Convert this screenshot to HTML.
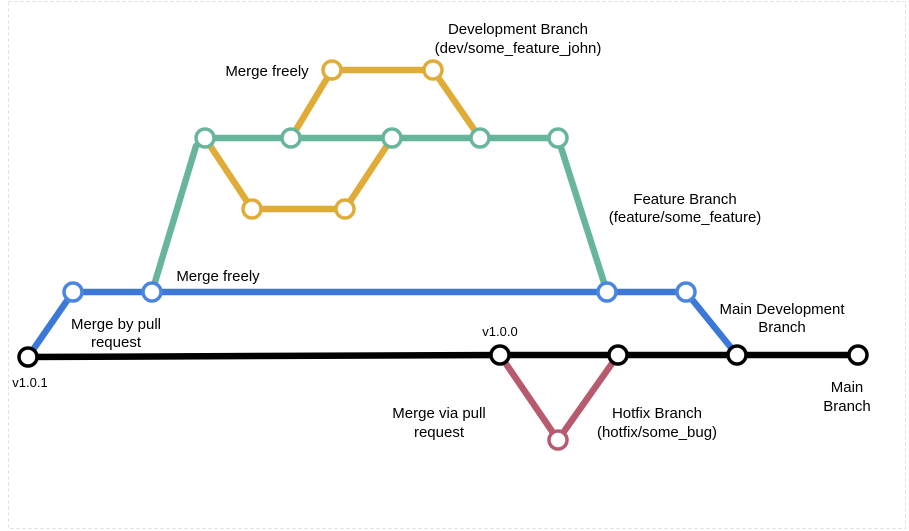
<!DOCTYPE html>
<html><head><style>
html,body{margin:0;padding:0;background:#fff;}
svg{display:block;}
text{font-family:"Liberation Sans",Arial,sans-serif;font-size:15px;fill:#000;}
</style></head><body>
<svg width="909" height="531" viewBox="0 0 909 531" xmlns="http://www.w3.org/2000/svg">
<rect x="8.5" y="1.5" width="897" height="527" fill="none" stroke="#ddd" stroke-dasharray="3,3"/>
<g fill="none" stroke-width="6.5" stroke-linejoin="round">
<polyline points="28,357 500,355 618,355 737,355 858,355" stroke="#000"/>
<polyline points="28,357 73,292 686,292 737,355" stroke="#3c78d8"/>
<polyline points="152,292 196,146 205,138 558,138 607,292" stroke="#67b59b"/>
<polyline points="291,138 332,70 433,70 480,138" stroke="#e0ac37"/>
<polyline points="205,138 252,209 345,209 392,138" stroke="#e0ac37"/>
<polyline points="500,355 558,440 618,355" stroke="#b85a6e"/>
</g>
<g fill="#fff" stroke-width="3.5">
<g stroke="#000"><circle cx="28" cy="357" r="9"/><circle cx="500" cy="355" r="9"/><circle cx="618" cy="355" r="9"/><circle cx="737" cy="355" r="9"/><circle cx="858" cy="355" r="9"/></g>
<g stroke="#4a86e0"><circle cx="73" cy="292" r="9"/><circle cx="152" cy="292" r="9"/><circle cx="607" cy="292" r="9"/><circle cx="686" cy="292" r="9"/></g>
<g stroke="#67b59b"><circle cx="205" cy="138" r="9"/><circle cx="291" cy="138" r="9"/><circle cx="392" cy="138" r="9"/><circle cx="480" cy="138" r="9"/><circle cx="558" cy="138" r="9"/></g>
<g stroke="#e0ac37"><circle cx="332" cy="70" r="9"/><circle cx="433" cy="70" r="9"/><circle cx="252" cy="209" r="9"/><circle cx="345" cy="209" r="9"/></g>
<g stroke="#b85a6e"><circle cx="558" cy="440" r="9"/></g>
</g>
<g text-anchor="middle">
<text x="518" y="34">Development Branch</text>
<text x="518" y="53">(dev/some_feature_john)</text>
<text x="267" y="76">Merge freely</text>
<text x="685" y="204">Feature Branch</text>
<text x="685" y="222">(feature/some_feature)</text>
<text x="218" y="281">Merge freely</text>
<text x="116" y="329">Merge by pull</text>
<text x="116" y="347">request</text>
<text x="30" y="387" style="font-size:13px">v1.0.1</text>
<text x="500" y="336" style="font-size:13px">v1.0.0</text>
<text x="782" y="314">Main Development</text>
<text x="782" y="332">Branch</text>
<text x="847" y="392">Main</text>
<text x="847" y="411">Branch</text>
<text x="439" y="418">Merge via pull</text>
<text x="439" y="437">request</text>
<text x="657" y="418">Hotfix Branch</text>
<text x="657" y="437">(hotfix/some_bug)</text>
</g>
</svg>
</body></html>
